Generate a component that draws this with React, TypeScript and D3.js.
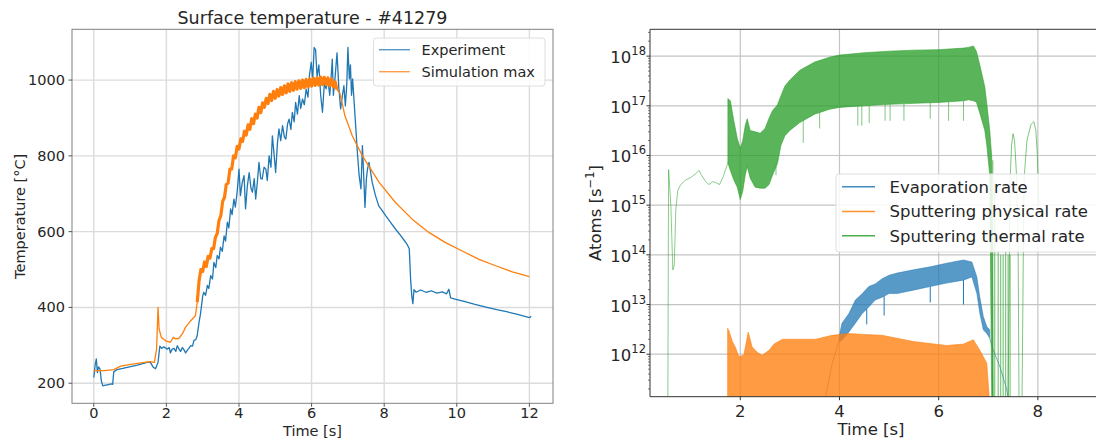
import React from 'react';
import * as d3 from 'd3';

const FONT = '"DejaVu Sans", sans-serif';
const BLUE = '#1f77b4';
const ORANGE = '#ff7f0e';
const GREEN = '#2ca02c';

// ---- left panel: surface temperature (°C vs s) ----
const expT = [0, 0.04, 0.07, 0.1, 0.13, 0.17, 0.21, 0.25, 0.32, 0.4, 0.48, 0.52, 0.55, 0.64, 0.8, 0.92, 1.2, 1.47, 1.56, 1.64, 1.7, 1.77, 1.82, 1.87, 1.93, 2.02, 2.08, 2.11, 2.16, 2.21, 2.26, 2.3, 2.35, 2.39, 2.44, 2.48, 2.53, 2.57, 2.62, 2.67, 2.72, 2.76, 2.81, 2.85, 2.9, 2.94,
  3.0, 3.03, 3.08, 3.13, 3.17, 3.22, 3.27, 3.31, 3.36, 3.4, 3.45, 3.49, 3.54, 3.59, 3.63, 3.68, 3.72, 3.77, 3.81, 3.86, 3.9, 3.95,
  4.0, 4.04, 4.09, 4.14, 4.18, 4.23, 4.28, 4.33, 4.37, 4.42, 4.46, 4.51, 4.55, 4.6, 4.64, 4.69, 4.74, 4.78, 4.83, 4.88, 4.92, 4.97,
  5.01, 5.06, 5.1, 5.15, 5.2, 5.25, 5.29, 5.34, 5.38, 5.43, 5.47, 5.52, 5.56, 5.61, 5.66, 5.7, 5.75, 5.8, 5.85, 5.9, 5.94, 5.99,
  6.03, 6.07, 6.11, 6.15, 6.2, 6.25, 6.3, 6.35, 6.4, 6.45, 6.5, 6.54, 6.57, 6.6, 6.65, 6.7, 6.75, 6.8, 6.85, 6.89, 6.93, 6.97,
  7.0, 7.04, 7.07, 7.1, 7.13, 7.18, 7.22, 7.26, 7.31, 7.36, 7.4, 7.43, 7.47, 7.51, 7.54, 7.58, 7.62, 7.67, 7.76, 7.85, 7.95,
  8.04, 8.17, 8.31, 8.45, 8.59, 8.64, 8.69, 8.73, 8.76, 8.79, 8.82, 8.88, 9.0, 9.15, 9.3, 9.45, 9.6, 9.72, 9.78, 9.83, 9.95,
  10.2, 10.5, 10.8, 11.1, 11.4, 11.7, 11.9, 12.0, 12.05];
const expV = [215, 250, 264, 228, 243, 238, 205, 193, 195, 196, 198, 197, 230, 236, 239, 242, 248, 255, 255, 242, 238, 255, 298, 292, 296, 290, 294, 280, 290, 292, 284, 299, 290, 284, 294, 289, 280, 286, 292, 299, 298, 313, 315, 326, 361, 383,
  430, 440, 432, 458, 450, 484, 475, 519, 505, 537, 528, 559, 548, 589, 575, 625, 610, 660, 645, 686, 665, 705,
  765, 695, 730, 748, 660, 720, 756, 715, 704, 740, 686, 735, 783, 740, 739, 770, 765, 735, 800, 770, 853, 800,
  756, 835, 871, 840, 880, 850, 844, 885, 897, 870, 915, 890, 941, 910, 959, 925, 950, 935, 976, 955, 1012, 1047,
  1000, 1086, 1080, 1010, 1040, 960, 915, 990, 977, 1000, 960, 1010, 1055, 960, 1010, 1072, 980, 924, 960, 985, 932, 990,
  1086, 1003, 1040, 960, 1003, 930, 871, 810, 748, 713, 827, 760, 664, 740, 765, 783, 760, 730, 695, 668, 655,
  642, 625, 607, 590, 572, 565, 555, 470, 430, 410, 447, 440, 446, 440, 444, 438, 441, 436, 448, 425, 422,
  416, 408, 401, 394, 388, 381, 376, 373, 377];

const simT = [0, 0.3, 0.55, 0.74, 1.1, 1.56, 1.67, 1.73, 1.77, 1.8, 1.86, 1.98, 2.11, 2.19, 2.25, 2.34, 2.44, 2.53, 2.67, 2.8, 2.85,
  2.9, 2.95, 3.0, 3.05, 3.1, 3.15, 3.2, 3.25, 3.3, 3.35, 3.4, 3.45, 3.5, 3.55, 3.6, 3.65, 3.7, 3.75, 3.8, 3.85, 3.9, 3.95,
  4.0, 4.05, 4.1, 4.15, 4.2, 4.25, 4.3, 4.35, 4.4, 4.45, 4.5, 4.55, 4.6, 4.65, 4.7, 4.75, 4.8, 4.85, 4.9, 4.95,
  5.0, 5.05, 5.1, 5.15, 5.2, 5.25, 5.3, 5.35, 5.4, 5.45, 5.5, 5.55, 5.6, 5.65, 5.7, 5.75, 5.8, 5.85, 5.9, 5.95,
  6.0, 6.05, 6.1, 6.15, 6.2, 6.25, 6.3, 6.35, 6.4, 6.45, 6.5, 6.55, 6.6, 6.65, 6.7,
  6.78, 6.85, 6.92, 7.0, 7.12, 7.4, 7.86, 8.31, 8.77, 9.23, 9.69, 10.15, 10.61, 11.07, 11.53, 12.0];
const simV = [233, 233, 236, 245, 251, 257, 255, 290, 400, 343, 321, 312, 308, 321, 317, 318, 330, 348, 365, 378, 414,
  470, 500, 495, 520, 508, 535, 530, 555, 555, 585, 595, 630, 642, 680, 690, 725, 728, 765, 765, 800, 795, 825,
  818, 845, 838, 865, 855, 882, 870, 898, 885, 910, 900, 928, 914, 940, 928, 952, 938, 962, 946, 970,
  952, 975, 958, 980, 962, 985, 966, 990, 970, 993, 973, 996, 976, 998, 978, 1000, 980, 1002, 982, 1003,
  984, 1005, 986, 1006, 987, 1008, 988, 1007, 988, 1006, 985, 1003, 982, 995, 975,
  965, 935, 905, 885, 853, 800, 730, 677, 633, 598, 571, 549, 527, 510, 494, 481];

const leftXTicks = [0, 2, 4, 6, 8, 10, 12];
const leftYTicks = [200, 400, 600, 800, 1000];

// ---- right panel: atom rates (s^-1, log) ----
const greenPreT = [0.54, 0.555, 0.6, 0.64, 0.67, 0.7, 0.74, 0.8, 0.9, 1.0, 1.1, 1.17, 1.22, 1.3, 1.37, 1.45, 1.52, 1.58, 1.65, 1.72, 1.75];
const greenPreV = [1e11, 5.2e15, 1e15, 5e13, 6.3e13, 8e14, 2e15, 2.6e15, 3.2e15, 3.6e15, 4.3e15, 5e15, 4e15, 3e15, 2.6e15, 3e15, 2.8e15, 2.6e15, 3.6e15, 5.8e15, 7.1e15];

const greenBandT = [1.75, 1.8, 1.87, 1.94, 2.0, 2.05, 2.1, 2.14, 2.2, 2.3, 2.4, 2.5, 2.58, 2.65, 2.75, 2.82, 2.9, 3.0, 3.2, 3.5, 3.8, 4.0, 4.5, 5.0, 5.5, 6.0, 6.5, 6.6, 6.7, 6.76, 6.83, 6.93, 6.97, 7.03, 7.07, 7.1];
const greenHi = [1.4e17, 1.26e17, 5e16, 2.2e16, 1.4e16, 2e16, 4e16, 5.5e16, 3.2e16, 3e16, 2.8e16, 3.5e16, 5.6e16, 8e16, 1.05e17, 1.6e17, 2.5e17, 3.3e17, 5.2e17, 7.6e17, 9.5e17, 1.05e18, 1.17e18, 1.26e18, 1.32e18, 1.35e18, 1.45e18, 1.5e18, 1.6e18, 1.26e18, 6.6e17, 2.4e17, 1.1e17, 3.2e16, 9.3e15, 1e11];
const greenLo = [7.1e15, 5e15, 3.2e15, 2.3e15, 1.3e15, 1.9e15, 4e15, 6e15, 3.5e15, 2.3e15, 2.2e15, 2.2e15, 2.6e15, 4e15, 6.9e15, 1.6e16, 2.5e16, 3.2e16, 4.6e16, 6.8e16, 8.5e16, 9.3e16, 1e17, 1.07e17, 1.12e17, 1.17e17, 1.26e17, 1.32e17, 1.26e17, 1.2e17, 7.1e16, 3.2e16, 1.6e16, 4e15, 1e11, 1e11];
const greenDipT = [2.72, 3.27, 3.6, 4.37, 4.45, 4.6, 4.92, 5.02, 5.3, 5.83, 6.2, 6.5];
const greenDipV = [4e15, 1.8e16, 3.5e16, 4e16, 4e16, 4.5e16, 5e16, 5e16, 5e16, 5.5e16, 5e16, 5e16];
const greenTailT = [7.09, 7.13, 7.2, 7.25, 7.3, 7.35, 7.4, 7.44];
const greenTailV = [8e15, 3e15, 1.2e14, 1e14, 1e14, 1.2e14, 1e14, 1e14];
const greenBump1T = [7.4, 7.44, 7.47, 7.5, 7.53, 7.57, 7.6, 7.62];
const greenBump1V = [1e11, 3.2e15, 1.6e16, 2.75e16, 2e16, 4e15, 3e14, 1e11];
const greenBump2T = [7.68, 7.72, 7.78, 7.86, 7.92, 7.96, 7.99, 8.02];
const greenBump2V = [1e11, 3.2e15, 2e16, 4.2e16, 4.8e16, 3.2e16, 1e16, 1e15];

const orangeT = [1.745, 1.77, 1.84, 1.9, 1.97, 2.07, 2.16, 2.24, 2.34, 2.44, 2.58, 2.68, 2.85, 3.18, 3.52, 3.85, 4.19, 4.5, 4.86, 5.49, 6.16, 6.5, 6.7, 6.83, 6.97, 7.03];
const orangeHi = [3.3e12, 3e12, 1.8e12, 1.4e12, 9e11, 9.5e11, 2.8e12, 1.4e12, 1.1e12, 9.5e11, 1.2e12, 1.6e12, 2e12, 2e12, 2e12, 2.4e12, 2.6e12, 2.5e12, 2.4e12, 1.8e12, 1.5e12, 1.6e12, 1.95e12, 1.2e12, 6.6e11, 1e11];

const blueT = [4.0, 4.05, 4.19, 4.32, 4.46, 4.59, 4.72, 4.86, 5.0, 5.16, 5.49, 5.83, 6.16, 6.5, 6.67, 6.77, 6.83, 6.9, 6.97, 7.03];
const blueHi = [2.4e12, 4.2e12, 6.6e12, 1.23e13, 1.66e13, 2.3e13, 2.6e13, 3.3e13, 3.9e13, 4.3e13, 5e13, 5.75e13, 6.8e13, 7.9e13, 7.2e13, 3.6e13, 1.4e13, 5.75e12, 3.6e12, 3.1e12];
const blueLo = [1.8e12, 1.9e12, 2.8e12, 4.2e12, 6.6e12, 8.9e12, 1.23e13, 1.4e13, 1.66e13, 1.66e13, 1.95e13, 2.3e13, 2.7e13, 3.1e13, 3.6e13, 1.66e13, 6.6e12, 3.1e12, 2.6e12, 2.1e12];
const blueLeadT = [3.72, 3.85, 4.0];
const blueLeadV = [1.4e11, 6.3e11, 2e12];
const blueTailT = [7.03, 7.1, 7.23, 7.37, 7.42];
const blueTailV = [2.1e12, 1.2e12, 5.8e11, 2e11, 1e11];
const blueDipT = [4.55, 4.9, 5.83, 6.5];
const blueDipV = [4e12, 6e12, 1.1e13, 1e13];

const rightXTicks = [2, 4, 6, 8];
const rightYExps = [12, 13, 14, 15, 16, 17, 18];

const LB = { left: 72, right: 553, top: 29.3, bottom: 403.3 };
const RB = { left: 650, right: 1115, top: 29.3, bottom: 396.7 };

type P = [number, number];
const zip = (a: number[], b: number[]): P[] => a.map((d, i) => [d, b[i]]);

export default function App() {
  const lx = d3.scaleLinear().domain([-0.6, 12.65]).range([LB.left, LB.right]);
  const ly = d3.scaleLinear().domain([147, 1134]).range([LB.bottom, LB.top]);
  const rx = d3.scaleLinear().domain([0.18, 9.555]).range([RB.left, RB.right]);
  const ry = d3.scaleLog().domain([10 ** 11.145, 10 ** 18.54]).range([RB.bottom, RB.top]);

  const lline = d3.line<P>().x(d => lx(d[0])).y(d => ly(d[1]));
  const rline = d3.line<P>().x(d => rx(d[0])).y(d => ry(d[1]));
  const band = (t: number[], lo: number[] | null, hi: number[]) =>
    d3.area<number>()
      .x(d => rx(t[d]))
      .y0(d => (lo ? ry(lo[d]) : RB.bottom + 5))
      .y1(d => ry(hi[d]))(d3.range(t.length)) as string;

  const greenLoAt = d3.scaleLinear().domain(greenBandT).range(greenLo);
  const blueLoAt = d3.scaleLinear().domain(blueT).range(blueLo);

  const simPts = zip(simT, simV);
  const simNoisy = simPts.filter(d => d[0] >= 2.85 && d[0] <= 6.72);

  const minor: number[] = [];
  for (let k = 11; k <= 18; k++) for (let m = 2; m <= 9; m++) {
    const v = m * 10 ** k;
    if (v > 10 ** 11.145 && v < 10 ** 18.54) minor.push(v);
  }

  return (
    <div style={{ position: 'absolute', left: 0, top: 0 }}>
      <svg width={1096} height={441} style={{ display: 'block', background: '#fff' }} fontFamily={FONT}>
        <defs>
          <clipPath id="lclip"><rect x={LB.left} y={LB.top} width={LB.right - LB.left} height={LB.bottom - LB.top} /></clipPath>
          <clipPath id="rclip"><rect x={RB.left} y={RB.top} width={RB.right - RB.left} height={RB.bottom - RB.top} /></clipPath>
        </defs>

        {/* ===== left panel ===== */}
        <g>
          {leftXTicks.map(t => (
            <line key={'gx' + t} x1={lx(t)} x2={lx(t)} y1={LB.top} y2={LB.bottom} stroke="#dcdcdc" strokeWidth={1.4} />
          ))}
          {leftYTicks.map(v => (
            <line key={'gy' + v} x1={LB.left} x2={LB.right} y1={ly(v)} y2={ly(v)} stroke="#dcdcdc" strokeWidth={1.4} />
          ))}
          <g clipPath="url(#lclip)" fill="none" strokeLinejoin="round">
            <path d={lline(zip(expT, expV)) as string} stroke={BLUE} strokeWidth={1.3} />
            <path d={lline(simPts) as string} stroke={ORANGE} strokeWidth={1.3} />
            <path d={lline(simNoisy) as string} stroke={ORANGE} strokeWidth={3.2} />
          </g>
          <rect x={LB.left} y={LB.top} width={LB.right - LB.left} height={LB.bottom - LB.top} fill="none" stroke="#808080" strokeWidth={1} />
          {leftXTicks.map(t => (
            <g key={'tx' + t}>
              <line x1={lx(t)} x2={lx(t)} y1={LB.bottom} y2={LB.bottom + 3.5} stroke="#555" />
              <text x={lx(t)} y={418} textAnchor="middle" fontSize={14.5} fill="#262626">{t}</text>
            </g>
          ))}
          {leftYTicks.map(v => (
            <g key={'ty' + v}>
              <line x1={LB.left - 3.5} x2={LB.left} y1={ly(v)} y2={ly(v)} stroke="#555" />
              <text x={65} y={ly(v) + 5} textAnchor="end" fontSize={14.5} fill="#262626">{v}</text>
            </g>
          ))}
          <text x={(LB.left + LB.right) / 2} y={24} textAnchor="middle" fontSize={17.5} fill="#262626">Surface temperature - #41279</text>
          <text x={(LB.left + LB.right) / 2} y={436} textAnchor="middle" fontSize={14.5} fill="#262626">Time [s]</text>
          <text transform={`translate(25,${(LB.top + LB.bottom) / 2}) rotate(-90)`} textAnchor="middle" fontSize={14.5} fill="#262626">Temperature [°C]</text>

          <rect x={373.5} y={38} width={171.5} height={48} rx={3} fill="#fff" fillOpacity={0.85} stroke="#dedede" />
          <line x1={379} x2={410} y1={49.7} y2={49.7} stroke={BLUE} strokeWidth={1.4} opacity={0.75} />
          <text x={421.5} y={55} fontSize={14.5} fill="#262626">Experiment</text>
          <line x1={379} x2={410} y1={71.7} y2={71.7} stroke={ORANGE} strokeWidth={1.4} opacity={0.75} />
          <text x={421.5} y={77} fontSize={14.5} fill="#262626">Simulation max</text>
        </g>

        {/* ===== right panel ===== */}
        <g>
          {rightXTicks.map(t => (
            <line key={'rgx' + t} x1={rx(t)} x2={rx(t)} y1={RB.top} y2={RB.bottom} stroke="#c4c4c4" strokeWidth={1.2} />
          ))}
          {rightYExps.map(e => (
            <line key={'rgy' + e} x1={RB.left} x2={RB.right} y1={ry(10 ** e)} y2={ry(10 ** e)} stroke="#c4c4c4" strokeWidth={1.2} />
          ))}
          <g clipPath="url(#rclip)" fill="none" strokeLinejoin="round">
            {/* evaporation */}
            <path d={rline(zip(blueLeadT, blueLeadV)) as string} stroke="#7a6a60" strokeWidth={1} opacity={0.6} />
            <path d={band(blueT, blueLo, blueHi)} fill={BLUE} fillOpacity={0.75} stroke={BLUE} strokeOpacity={0.6} strokeWidth={0.8} />
            <path d={rline(zip(blueTailT, blueTailV)) as string} stroke={BLUE} strokeWidth={1} opacity={0.6} />
            {blueDipT.map((t, i) => (
              <line key={'bd' + i} x1={rx(t)} x2={rx(t)} y1={ry(blueLoAt(t))} y2={ry(blueDipV[i])} stroke={BLUE} strokeWidth={1} />
            ))}
            {/* physical sputtering */}
            <path d={band(orangeT, null, orangeHi)} fill={ORANGE} fillOpacity={0.78} stroke={ORANGE} strokeOpacity={0.7} strokeWidth={0.8} />
            {/* thermal sputtering */}
            <path d={rline(zip(greenPreT, greenPreV)) as string} stroke={GREEN} strokeWidth={1} opacity={0.55} />
            <path d={band(greenBandT, greenLo, greenHi)} fill={GREEN} fillOpacity={0.78} stroke={GREEN} strokeOpacity={0.7} strokeWidth={0.8} />
            {greenDipT.map((t, i) => (
              <line key={'gd' + i} x1={rx(t)} x2={rx(t)} y1={ry(greenLoAt(t))} y2={ry(greenDipV[i])} stroke={GREEN} strokeWidth={1} opacity={0.6} />
            ))}
            {greenTailT.map((t, i) => (
              <line key={'gt' + i} x1={rx(t)} x2={rx(t)} y1={RB.bottom + 2} y2={ry(greenTailV[i])} stroke={GREEN} strokeWidth={1.2} opacity={0.6} />
            ))}
            <path d={rline(zip(greenBump1T, greenBump1V)) as string} stroke={GREEN} strokeWidth={1} opacity={0.6} />
            <path d={rline(zip(greenBump2T, greenBump2V)) as string} stroke={GREEN} strokeWidth={1} opacity={0.6} />
          </g>
          <path d={`M${1100},${RB.top}H${RB.left}V${RB.bottom}H${1100}`} fill="none" stroke="#333" strokeWidth={1} />
          {minor.map((v, i) => (
            <line key={'mn' + i} x1={RB.left - 2} x2={RB.left} y1={ry(v)} y2={ry(v)} stroke="#444" strokeWidth={0.7} />
          ))}
          {rightYExps.map(e => (
            <g key={'rty' + e}>
              <line x1={RB.left - 3.5} x2={RB.left} y1={ry(10 ** e)} y2={ry(10 ** e)} stroke="#333" />
              <text x={646} y={ry(10 ** e) + 7} textAnchor="end" fontSize={16.5} fill="#262626">
                10<tspan dy={-8} fontSize={11.5}>{e}</tspan>
              </text>
            </g>
          ))}
          {rightXTicks.map(t => (
            <g key={'rtx' + t}>
              <line x1={rx(t)} x2={rx(t)} y1={RB.bottom} y2={RB.bottom + 3.5} stroke="#333" />
              <text x={rx(t)} y={417} textAnchor="middle" fontSize={16.5} fill="#262626">{t}</text>
            </g>
          ))}
          <text x={871} y={435} textAnchor="middle" fontSize={16.5} fill="#262626">Time [s]</text>
          <text transform={`translate(601,${(RB.top + RB.bottom) / 2}) rotate(-90)`} textAnchor="middle" fontSize={16.5} fill="#262626">
            Atoms [s<tspan dy={-7} fontSize={11.5}>−1</tspan><tspan dy={7}>]</tspan>
          </text>

          <rect x={836} y={174} width={270} height={78} rx={3} fill="#fff" fillOpacity={0.85} stroke="#dedede" />
          <line x1={842} x2={875} y1={186.7} y2={186.7} stroke={BLUE} strokeWidth={1.6} opacity={0.85} />
          <text x={889.5} y={192.5} fontSize={16.5} fill="#262626">Evaporation rate</text>
          <line x1={842} x2={875} y1={211.5} y2={211.5} stroke={ORANGE} strokeWidth={1.6} opacity={0.85} />
          <text x={889.5} y={217.3} fontSize={16.5} fill="#262626">Sputtering physical rate</text>
          <line x1={842} x2={875} y1={235.7} y2={235.7} stroke={GREEN} strokeWidth={1.6} opacity={0.85} />
          <text x={889.5} y={241.5} fontSize={16.5} fill="#262626">Sputtering thermal rate</text>
        </g>
      </svg>
    </div>
  );
}
